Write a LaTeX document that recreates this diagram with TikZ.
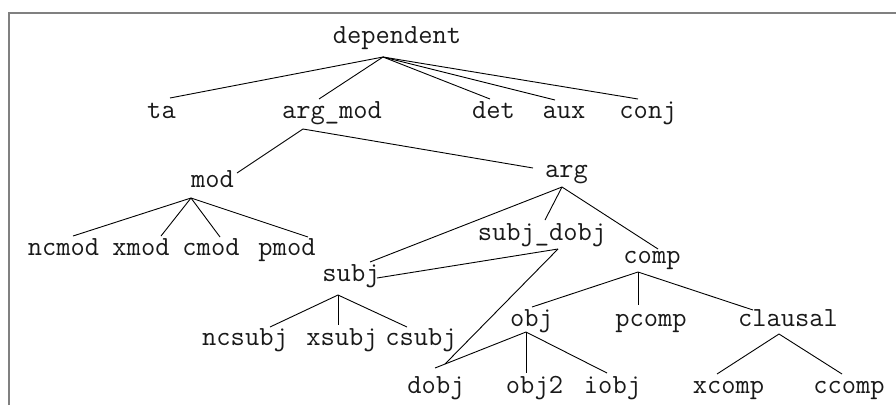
\documentclass[tikz,border=0pt]{standalone}
\usetikzlibrary{calc}
\newcommand\treeedge[4]{\draw[ln] ($(#1.base)+(#2)$) -- ($(#3.base)+(#4)$);}
\begin{document}
\begin{tikzpicture}[x=1pt,y=-1pt,
  lbl/.style={anchor=base, inner sep=0pt, font=\fontsize{27.7}{32}\selectfont\ttfamily, text=black!90},
  ln/.style={draw=black, line width=0.9pt},
  frame/.style={draw=black!50, line width=2pt}]
\useasboundingbox (0,0) rectangle (896,405);
\draw[frame] (8.5,405) -- (8.5,12.5) -- (896,12.5);
% nodes
\node[lbl] (dependent) at (397,43) {dependent};
\node[lbl] (ta) at (161.5,118) {ta};
\node[lbl] (argmod) at (332,118) {arg\_mod};
\node[lbl] (det) at (493.5,118) {det};
\node[lbl] (aux) at (564,118) {aux};
\node[lbl] (conj) at (648,118) {conj};
\node[lbl] (mod) at (212.5,187) {mod};
\node[lbl] (arg) at (566.5,177) {arg};
\node[lbl] (ncmod) at (63.5,255) {ncmod};
\node[lbl] (xmod) at (141,255) {xmod};
\node[lbl] (cmod) at (211,255) {cmod};
\node[lbl] (pmod) at (287,255) {pmod};
\node[lbl] (subjdobj) at (542,240) {subj\_dobj};
\node[lbl] (subj) at (351,281) {subj};
\node[lbl] (comp) at (652,263) {comp};
\node[lbl] (ncsubj) at (245,345) {ncsubj};
\node[lbl] (xsubj) at (342,345) {xsubj};
\node[lbl] (csubj) at (421,345) {csubj};
\node[lbl] (obj) at (531.5,326) {obj};
\node[lbl] (pcomp) at (651,326) {pcomp};
\node[lbl] (clausal) at (788,326) {clausal};
\node[lbl] (dobj) at (436,393) {dobj};
\node[lbl] (obj2) at (534.5,393) {obj2};
\node[lbl] (iobj) at (612.5,393) {iobj};
\node[lbl] (xcomp) at (728.5,393) {xcomp};
\node[lbl] (ccomp) at (849,393) {ccomp};
% edges
\treeedge{dependent}{-14,14}{ta}{8.5,-20}
\treeedge{dependent}{-14,14}{argmod}{-13,-19}
\treeedge{dependent}{-14,14}{det}{-3.5,-19}
\treeedge{dependent}{-14,14}{aux}{-9,-18}
\treeedge{dependent}{-14,14}{conj}{-10,-19}
\treeedge{argmod}{-29,11}{mod}{24.5,-14}
\treeedge{argmod}{-29,11}{arg}{-33.5,-9}
\treeedge{mod}{-21.5,11}{ncmod}{9.5,-19}
\treeedge{mod}{-21.5,11}{xmod}{20,-19}
\treeedge{mod}{-21.5,11}{cmod}{9,-18}
\treeedge{mod}{-21.5,11}{pmod}{21,-18}
\treeedge{arg}{-4.5,10}{subj}{19,-19}
\treeedge{arg}{-4.5,10}{subjdobj}{3,-20}
\treeedge{arg}{-4.5,10}{comp}{6,-14}
\treeedge{subjdobj}{16,9}{subj}{26,-3}
\treeedge{subjdobj}{16,9}{dobj}{9,-29}
\treeedge{subj}{-13,14}{ncsubj}{25,-18}
\treeedge{subj}{-13,14}{xsubj}{-4,-20}
\treeedge{subj}{-13,14}{csubj}{-14,-18}
\treeedge{comp}{-14,9}{obj}{0.5,-19}
\treeedge{comp}{-14,9}{pcomp}{-13,-21}
\treeedge{comp}{-14,9}{clausal}{-35,-16}
\treeedge{obj}{-5.5,6}{dobj}{-1,-25}
\treeedge{obj}{-5.5,6}{obj2}{-8.5,-20}
\treeedge{obj}{-5.5,6}{iobj}{-5.5,-20}
\treeedge{clausal}{-9,8}{xcomp}{-11.5,-19}
\treeedge{clausal}{-9,8}{ccomp}{-7,-19}
\end{tikzpicture}
\end{document}
